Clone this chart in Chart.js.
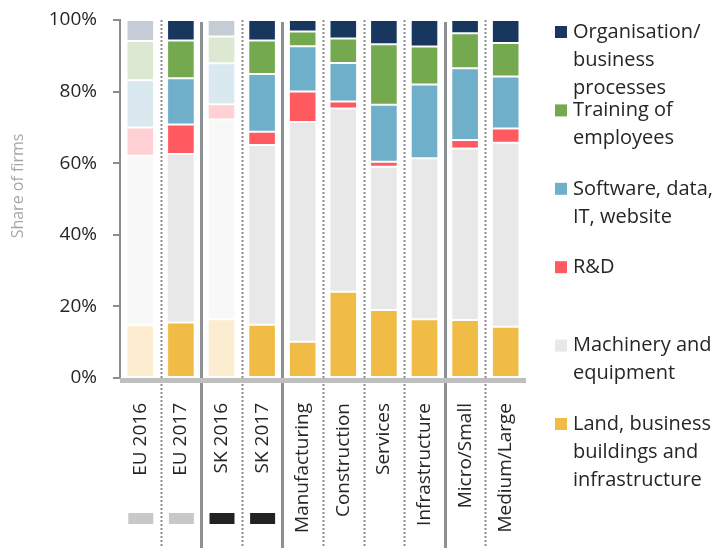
<!DOCTYPE html>
<html>
<head>
<meta charset="utf-8">
<script src="https://cdn.jsdelivr.net/npm/chart.js@4/dist/chart.umd.min.js"></script>
<style>
  html, body { margin: 0; padding: 0; background: #fff; }
  #wrap { width: 714px; height: 548px; }
</style>
</head>
<body>
<div id="wrap"><canvas id="chart" width="714" height="548"></canvas></div>
<script>
const categories = ["EU 2016", "EU 2017", "SK 2016", "SK 2017", "Manufacturing",
  "Construction", "Services", "Infrastructure", "Micro/Small", "Medium/Large"];

// share of firms (%) per investment area, bottom to top of each bar
const land      = [14.7, 15.5, 16.4, 14.9, 10.1, 24.1, 19.0, 16.4, 16.2, 14.3];
const machinery = [47.4, 47.1, 55.8, 50.2, 61.4, 51.2, 40.0, 45.0, 47.9, 51.4];
const rnd       = [7.9, 8.2, 4.3, 3.7, 8.5, 1.9, 1.4, 0, 2.4, 4.0];
const software  = [13.2, 12.9, 11.4, 16.1, 12.7, 10.8, 15.9, 20.6, 20.0, 14.5];
const training  = [10.9, 10.6, 7.5, 9.4, 4.1, 6.8, 16.9, 10.6, 9.8, 9.4];
const orgProc   = [5.9, 5.7, 4.6, 5.7, 3.2, 5.2, 6.8, 7.4, 3.7, 6.4];

const yTicks = [0, 20, 40, 60, 80, 100];
const yTitle = "Share of firms";

// previous-year bars are drawn faded
const fadedBars = [0, 2];
// small markers under the country bars (EU grey, SK black)
const groupMarks = ["#c8c8c8", "#c8c8c8", "#222222", "#222222"];
// separators after category index
const solidAfter = [1, 3, 7];
const dottedAfter = [0, 2, 4, 5, 6, 8];

const series = [
  { label: ["Land, business", "buildings and", "infrastructure"], data: land, color: "#f0bc46", faded: "#fcedd0" },
  { label: ["Machinery and", "equipment"], data: machinery, color: "#e8e8e8", faded: "#f8f8f8" },
  { label: ["R&D"], data: rnd, color: "#ff5a5f", faded: "#ffd1d4" },
  { label: ["Software, data,", "IT, website"], data: software, color: "#6fafc9", faded: "#dae8f0" },
  { label: ["Training of", "employees"], data: training, color: "#74a94f", faded: "#dce8d1" },
  { label: ["Organisation/", "business", "processes"], data: orgProc, color: "#17375e", faded: "#c5ccd6" }
];

const FONT = "'Open Sans', 'DejaVu Sans', sans-serif";

const datasets = series.map(s => ({
  label: s.label.join(" "),
  data: s.data,
  backgroundColor: categories.map((c, i) => fadedBars.includes(i) ? s.faded : s.color),
  borderColor: "#ffffff",
  borderWidth: 1,
  borderSkipped: false,
  barPercentage: 0.68,
  categoryPercentage: 1
}));

const decor = {
  id: "decor",
  afterDatasetsDraw(chart) {
    const ctx = chart.ctx;
    const area = chart.chartArea;
    const x = chart.scales.x;
    const H = chart.height;
    const boundary = i => (x.getPixelForValue(i) + x.getPixelForValue(i + 1)) / 2;

    ctx.save();
    // dotted separators
    ctx.strokeStyle = "#8c8c8c";
    ctx.lineWidth = 2;
    ctx.setLineDash([2, 2]);
    dottedAfter.forEach(i => {
      const bx = Math.round(boundary(i)) + 0.5;
      ctx.beginPath();
      ctx.moveTo(bx, area.top);
      ctx.lineTo(bx, H);
      ctx.stroke();
    });
    // solid separators
    ctx.setLineDash([]);
    ctx.strokeStyle = "#8e9194";
    ctx.lineWidth = 3;
    solidAfter.forEach(i => {
      const bx = Math.round(boundary(i)) + 0.5;
      ctx.beginPath();
      ctx.moveTo(bx, area.top + 2);
      ctx.lineTo(bx, H);
      ctx.stroke();
    });
    // grey base band
    ctx.fillStyle = "#bfbfbf";
    ctx.fillRect(area.left, area.bottom, area.right - area.left, 5);

    // markers under country bars
    groupMarks.forEach((col, i) => {
      const cx = x.getPixelForValue(i);
      ctx.fillStyle = col;
      ctx.fillRect(cx - 12, 513, 25, 11);
    });

    // y axis title
    ctx.save();
    ctx.translate(18, 186);
    ctx.rotate(-Math.PI / 2);
    ctx.font = "16px " + FONT;
    ctx.fillStyle = "#a6a6a6";
    ctx.textAlign = "center";
    ctx.textBaseline = "middle";
    ctx.fillText(yTitle, 0, 0);
    ctx.restore();

    // legend, top item first
    const items = series.slice().reverse();
    ctx.font = "20px " + FONT;
    ctx.textBaseline = "middle";
    ctx.textAlign = "left";
    items.forEach((s, k) => {
      const cy = 32 + k * 78.4;
      ctx.fillStyle = s.color;
      ctx.fillRect(555, cy - 6, 12, 12);
      ctx.fillStyle = "#262626";
      s.label.forEach((line, j) => {
        ctx.fillText(line, 573, cy + j * 28);
      });
    });
    ctx.restore();
  }
};

new Chart(document.getElementById("chart"), {
  type: "bar",
  data: { labels: categories, datasets: datasets },
  options: {
    responsive: false,
    animation: false,
    layout: { padding: { top: 20, right: 188, left: 0, bottom: 0 } },
    plugins: {
      legend: { display: false },
      tooltip: { enabled: false }
    },
    scales: {
      x: {
        stacked: true,
        grid: { display: false, drawTicks: false },
        border: { display: false },
        ticks: {
          autoSkip: false,
          minRotation: 90,
          maxRotation: 90,
          padding: 25,
          color: "#262626",
          font: { family: FONT, size: 19 }
        },
        afterFit: axis => { axis.height = 170; }
      },
      y: {
        stacked: true,
        min: 0,
        max: 100,
        afterBuildTicks: axis => { axis.ticks = yTicks.map(v => ({ value: v })); },
        grid: { drawOnChartArea: false, drawTicks: true, tickLength: 7, color: "#8c8c8c", lineWidth: 2 },
        border: { display: true, color: "#8c8c8c", width: 2 },
        ticks: {
          padding: 16,
          color: "#262626",
          font: { family: FONT, size: 19 },
          callback: v => v + "%"
        },
        afterFit: axis => {
          axis.width = 120;
          axis.paddingTop = 0;
          axis.paddingBottom = 0;
        }
      }
    }
  },
  plugins: [decor]
});
</script>
</body>
</html>
